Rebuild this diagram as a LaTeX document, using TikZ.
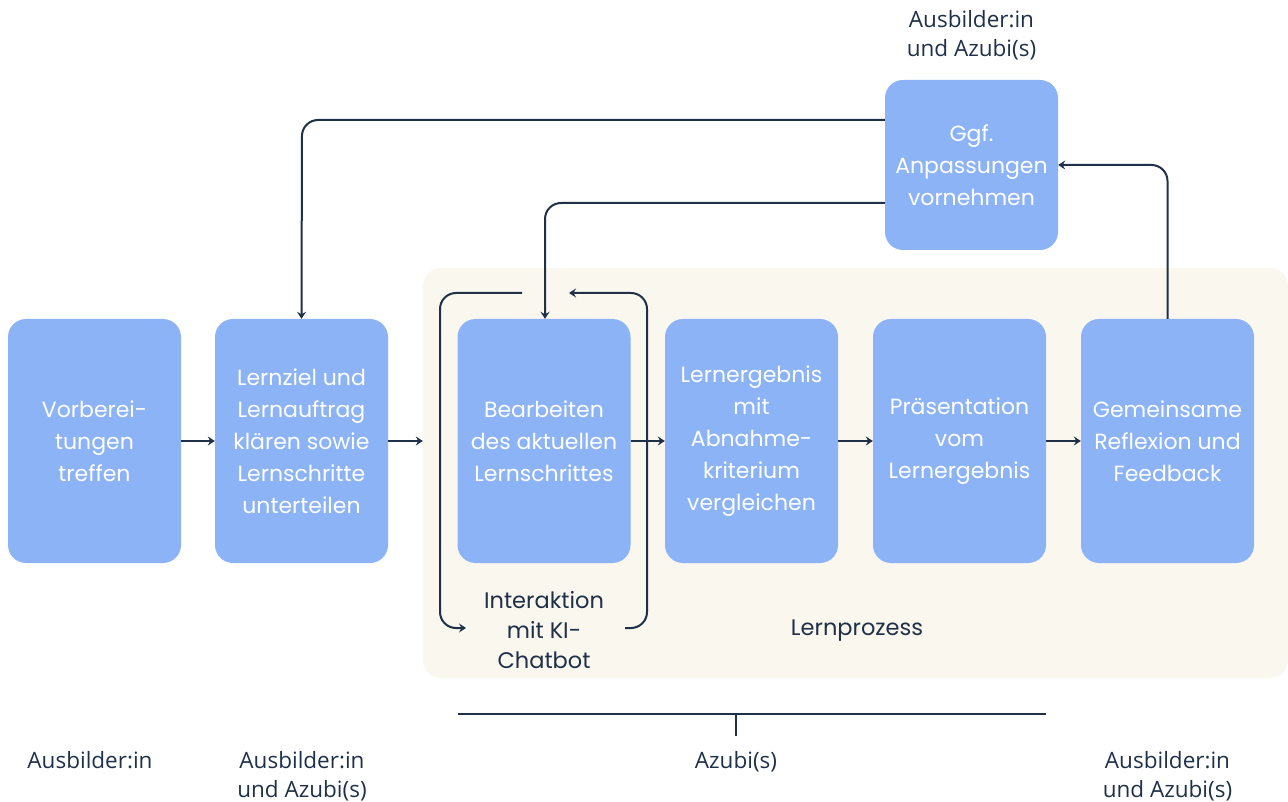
\documentclass[tikz,border=0pt]{standalone}
\usepackage{fontspec}
\setmainfont{Poppins}
\newfontfamily\labelfont{Open Sans}
\usetikzlibrary{arrows.meta}
\definecolor{boxblue}{HTML}{8CB3F6}
\definecolor{navy}{HTML}{1F3049}
\definecolor{cream}{HTML}{FAF7EE}
\tikzset{
  stepbox/.style={fill=boxblue, draw=none, rounded corners=18pt, minimum width=173pt, minimum height=244pt, inner sep=0pt, text=white, align=center, font=\fontsize{22}{32}\selectfont},
  conn/.style={draw=navy, line width=2pt, rounded corners=16pt, -{Stealth[length=7pt,width=9pt,inset=2.5pt]}},
  lbl/.style={text=navy, align=center, font=\labelfont\fontsize{22.5}{28.5}\selectfont},
  ilbl/.style={text=navy, align=center, font=\fontsize{22.5}{30}\selectfont}
}
\begin{document}
\begin{tikzpicture}[x=1pt,y=-1pt]
\useasboundingbox (0,0) rectangle (1288,802);
\node[fill=cream, rounded corners=18pt, minimum width=865pt, minimum height=410pt, inner sep=0pt] (bg) at (855.5,473) {};
\node[stepbox] (b1) at (94.5,441) {Vorberei-\\tungen\\treffen};
\node[stepbox] (b2) at (301.5,441) {Lernziel und\\Lernauftrag\\klären sowie\\Lernschritte\\unterteilen};
\node[stepbox] (b3) at (544,441) {Bearbeiten\\des aktuellen\\Lernschrittes};
\node[stepbox] (b4) at (751.5,441) {Lernergebnis\\mit\\Abnahme-\\kriterium\\vergleichen};
\node[stepbox] (b5) at (959.5,441) {Präsentation\\vom\\Lernergebnis};
\node[stepbox] (b6) at (1167.5,441) {Gemeinsame\\Reflexion und\\Feedback};
\node[stepbox, minimum height=170pt] (top) at (971.5,165) {Ggf.\\Anpassungen\\vornehmen};
% labels
\node[lbl] (ltop) at (971.5,35) {Ausbilder:in\\und Azubi(s)};
\node[lbl, anchor=north] (l1) at (90,748) {Ausbilder:in};
\node[lbl, anchor=north] (l2) at (302,748) {Ausbilder:in\\und Azubi(s)};
\node[lbl, anchor=north] (l3) at (736,748) {Azubi(s)};
\node[lbl, anchor=north] (l4) at (1167.5,748) {Ausbilder:in\\und Azubi(s)};
\node[ilbl] (inter) at (544,630) {Interaktion\\mit KI-\\Chatbot};
\node[ilbl] (lp) at (857,631) {Lernprozess};
% main arrows
\draw[conn] (b1.east) -- (b2.west);
\draw[conn] (b2.east) -- (bg.west |- b2.east);
\draw[conn] (b3.east) -- (b4.west);
\draw[conn] (b4.east) -- (b5.west);
\draw[conn] (b5.east) -- (b6.west);
% feedback loops
\draw[conn] (top.west |- 0,120) -- (302,120) -- (b2.north);
\draw[conn] (top.west |- 0,203) -- (545,203) -- (b3.north -| 545,0);
\draw[conn] (b6.north) -- (1167.5,165) -- (top.east);
% interaction loop
\coordinate (i1) at (522,293);
\coordinate (i2) at (466,628);
\coordinate (i3) at (625,628);
\coordinate (i4) at (569,293);
\draw[conn] (i1) -- (440,293) -- (440,628) -- (i2);
\draw[conn] (i3) -- (647,628) -- (647,293) -- (i4);
% bracket
\coordinate (br1) at (458,714);
\coordinate (br2) at (1046,714);
\coordinate (brt) at (736,736);
\draw[draw=navy, line width=2pt] (br1) -- (br2);
\draw[draw=navy, line width=2pt] (736,714) -- (brt);
\end{tikzpicture}
\end{document}
